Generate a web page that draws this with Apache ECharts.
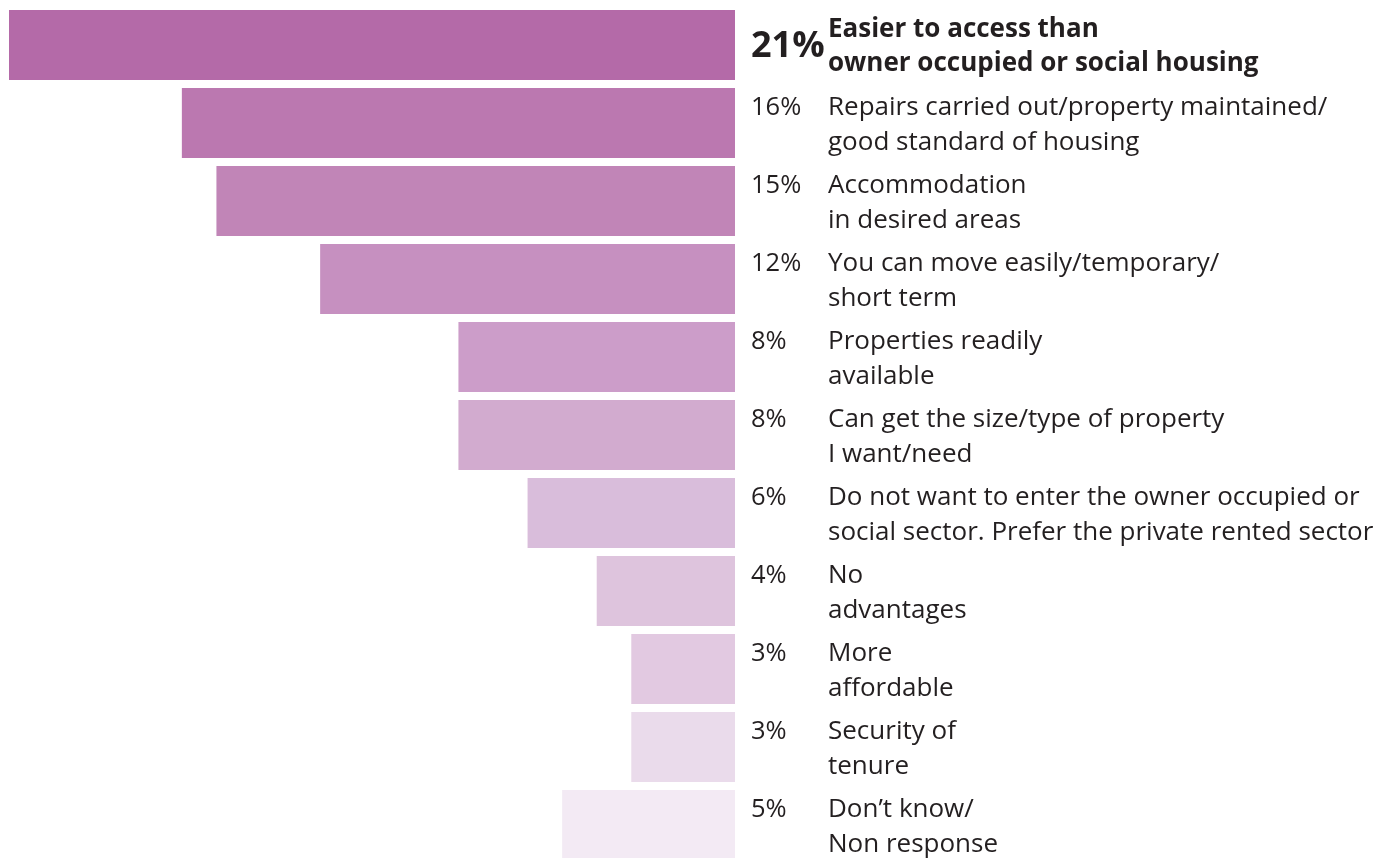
<!DOCTYPE html>
<html><head><meta charset="utf-8">
<script src="https://cdn.jsdelivr.net/npm/echarts@6/dist/echarts.min.js"></script>
<style>html,body{margin:0;padding:0;background:#fff}#c{width:1385px;height:858px}</style>
</head><body><div id="c"></div>
<script>
const categories = [
  "Easier to access than\nowner occupied or social housing",
  "Repairs carried out/property maintained/\ngood standard of housing",
  "Accommodation\nin desired areas",
  "You can move easily/temporary/\nshort term",
  "Properties readily\navailable",
  "Can get the size/type of property\nI want/need",
  "Do not want to enter the owner occupied or\nsocial sector. Prefer the private rented sector",
  "No\nadvantages",
  "More\naffordable",
  "Security of\ntenure",
  "Don’t know/\nNon response"
];
const values = [21, 16, 15, 12, 8, 8, 6, 4, 3, 3, 5];
const barColors = ["#b46aa8","#bb78b0","#c185b7","#c690c0","#cc9dc9","#d2abcf","#d9bddb","#dec4dd","#e2c9e1","#eadbeb","#f3eaf4"];

const FONT = "Open Sans";
const TXT = "#231f20";
const chart = echarts.init(document.getElementById('c'), null, {renderer:'canvas'});
chart.setOption({
  animation:false,
  grid:{left:9, width:726, top:6, height:858, outerBoundsMode:'none', containLabel:false},
  xAxis:{type:'value', inverse:true, min:0, max:21, show:false},
  yAxis:[
    {type:'category', data:categories, inverse:true, position:'right',
     axisLine:{show:false}, axisTick:{show:false}, splitLine:{show:false},
     axisLabel:{margin:16, align:'left',
       formatter:(v, i)=> i===0 ? '{b|'+values[i]+'%}' : '{n|'+values[i]+'%}',
       rich:{
         b:{fontFamily:FONT, fontWeight:'bold', fontSize:36, color:TXT, lineHeight:40, padding:[4,0,0,0]},
         n:{fontFamily:FONT, fontSize:25.5, color:TXT, lineHeight:35, padding:[4,0,35,0]}
       }}},
    {type:'category', data:categories, inverse:true, position:'right', offset:0,
     axisLine:{show:false}, axisTick:{show:false}, splitLine:{show:false},
     axisLabel:{margin:93, align:'left', padding:[4,0,0,0],
       formatter:(v, i)=> v.split('\n').map(s => (i===0?'{b|':'{t|')+s+'}').join('\n'),
       rich:{
         b:{fontFamily:FONT, fontWeight:'bold', fontSize:26, color:TXT, lineHeight:34},
         t:{fontFamily:FONT, fontSize:26, color:TXT, lineHeight:35}
       }}}
  ],
  series:[{
    type:'bar', yAxisIndex:0, barWidth:70,
    data: values.map((v,i)=>({value:v, itemStyle:{color:barColors[i]}})),
    label:{show:false}
  }]
});
</script></body></html>
